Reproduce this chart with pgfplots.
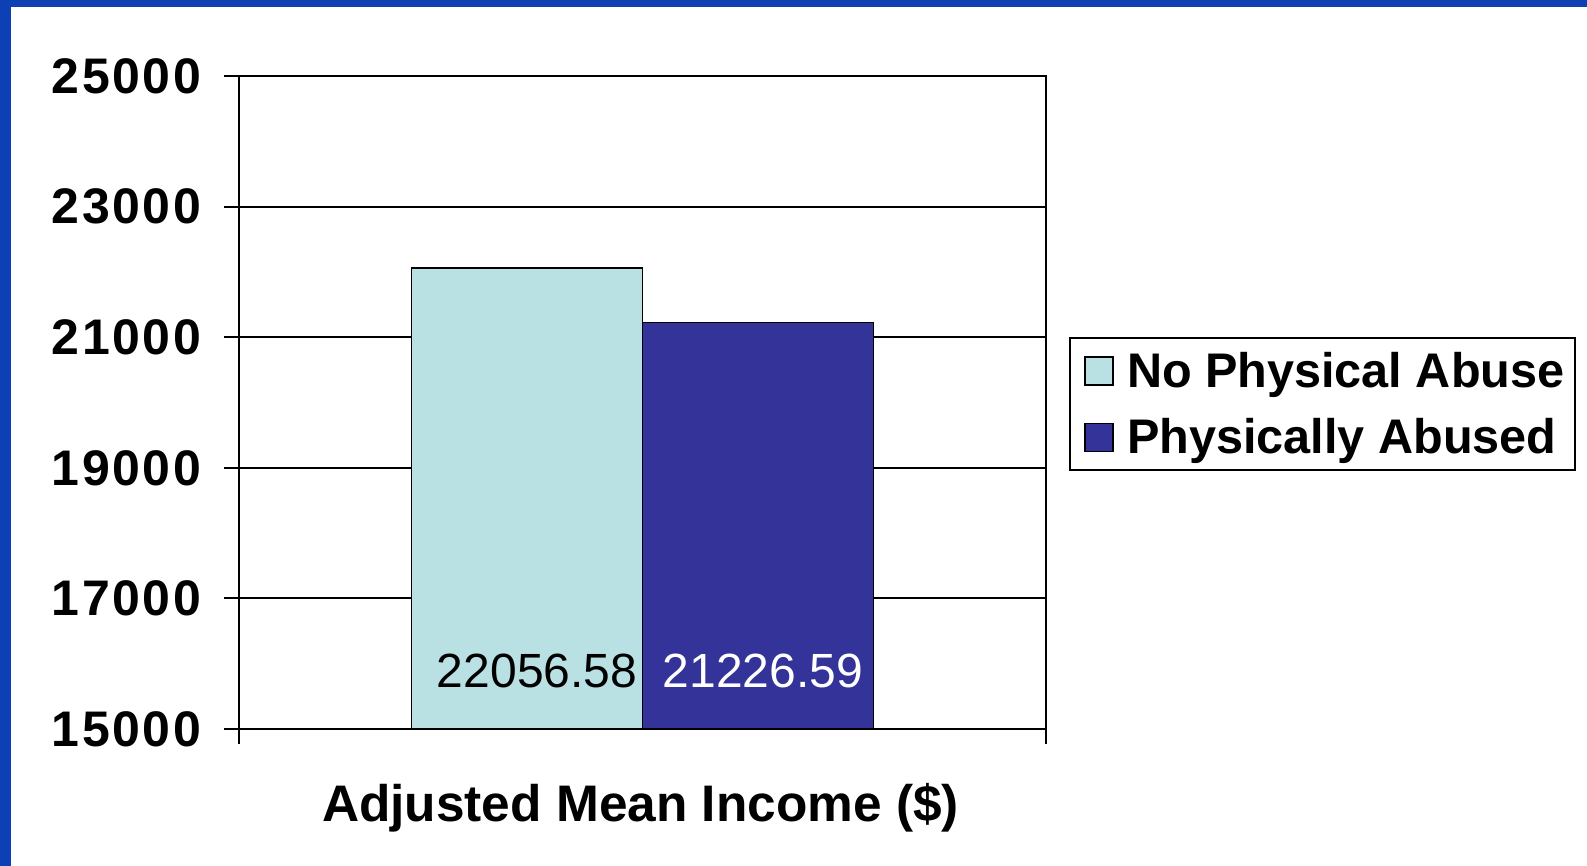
\documentclass[border=0pt]{standalone}
\usepackage{fontspec}
\setmainfont{Liberation Sans}
\newfontfamily\spacedfont[LetterSpace=5]{Liberation Sans}
\usepackage{pgfplots}
\pgfplotsset{compat=1.18}
\definecolor{frameblue}{RGB}{12,64,180}
\definecolor{lightbar}{RGB}{185,224,227}
\definecolor{darkbar}{RGB}{51,51,153}
\begin{document}
\begin{tikzpicture}
\fill[white] (0,0) rectangle (793.5pt,433pt);
\fill[frameblue] (0,0) rectangle (5.5pt,433pt);
\fill[frameblue] (0,429.5pt) rectangle (793.5pt,433pt);
\begin{axis}[
  at={(119.5pt,68.5pt)}, anchor=south west,
  scale only axis, width=403.5pt, height=326.5pt,
  xmin=-0.5, xmax=0.5, ymin=15000, ymax=25000,
  ytick={15000,17000,...,25000},
  xtick={-0.5,0.5}, xticklabels={},
  tick pos=left,
  tick align=outside, major tick length=7.5pt,
  tick style={black, line width=1pt},
  axis line style={line width=1pt},
  ymajorgrids, grid style={black, line width=1pt},
  scaled y ticks=false,
  y tick label style={font=\spacedfont\fontsize{25}{30}\selectfont\bfseries, xshift=-8pt, /pgf/number format/.cd, fixed, 1000 sep={}, assume math mode=true},
  xlabel={Adjusted Mean Income (\$)},
  xlabel style={at={(axis description cs:0.5,0)}, anchor=center, yshift=-39.5pt, xshift=-1pt, font=\fontsize{25.7}{30}\selectfont\bfseries},
  ybar, bar width=0.286,
  legend style={at={(1.0285,0.6003)}, anchor=north west, draw=black, line width=1pt,
    font=\fontsize{24.3}{28}\selectfont\bfseries, inner xsep=3pt, inner ysep=5pt, row sep=10pt},
  legend cell align=left,
  legend image code/.code={\draw[#1, draw=black, line width=0.75pt] (4.5pt,-7pt) rectangle (18.5pt,7pt); \path[draw=none, fill=none] (0pt,0pt) -- (23.5pt,0pt);},
  visualization depends on={rawy \as \rawy},
  nodes near coords, point meta=explicit symbolic,
  every node near coord/.append style={anchor=center, font=\fontsize{24}{28}\selectfont, shift={(axis direction cs:0,{15888-\rawy})}},
]
\addplot[fill=lightbar, draw=black, line width=0.75pt, bar shift=-0.143,
  every node near coord/.append style={black, xshift=5pt}]
  coordinates {(0,22056.58) [22056.58]};
\addplot[fill=darkbar, draw=black, line width=0.75pt, bar shift=0.143,
  every node near coord/.append style={white, xshift=2.5pt}]
  coordinates {(0,21226.59) [21226.59]};
\legend{No Physical Abuse, Physically Abused}
\end{axis}
\pgfresetboundingbox
\path (0,0) rectangle (793.5pt,433pt);
\end{tikzpicture}
\end{document}
